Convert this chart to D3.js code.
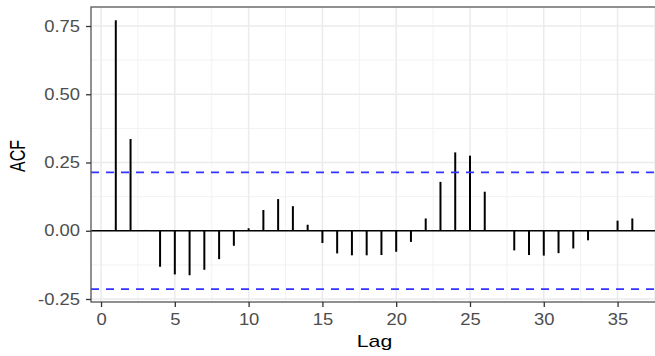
<!DOCTYPE html>
<html>
<head>
<meta charset="utf-8">
<script src="https://cdn.jsdelivr.net/npm/d3@7"></script>
<style>
  body { margin: 0; background: #fff; }
  svg text { font-family: "Liberation Sans", Arial, sans-serif; }
</style>
</head>
<body>
<div id="chart"></div>
<script>
// ACF values, lag 1..36
var lags = d3.range(1, 37);
var acf = [0.771, 0.336, 0.003, -0.132, -0.160, -0.163, -0.143, -0.104, -0.055, 0.009,
           0.076, 0.116, 0.090, 0.022, -0.045, -0.083, -0.090, -0.090, -0.089, -0.077,
           -0.041, 0.045, 0.179, 0.287, 0.275, 0.143, 0.002, -0.072, -0.089, -0.091,
           -0.082, -0.065, -0.035, 0.002, 0.037, 0.045];
var ciBounds = [0.214, -0.214];
var xTicks = [0, 5, 10, 15, 20, 25, 30, 35];
var xMinor = [2.5, 7.5, 12.5, 17.5, 22.5, 27.5, 32.5, 37.5];
var yTicks = [-0.25, 0, 0.25, 0.5, 0.75];
var yMinor = [-0.125, 0.125, 0.375, 0.625];

var W = 655, H = 356;
var P = {left: 91, top: 7, right: 658, bottom: 302};
var STRETCH = 1.15; // the picture's text is a bit wide

var svg = d3.select("#chart").append("svg")
    .attr("width", W)
    .attr("height", H);

var x = d3.scaleLinear().domain([-0.68, 37.74]).range([P.left, P.right]);
var y = d3.scaleLinear().domain([-0.261, 0.8196]).range([P.bottom, P.top]);

// panel + grid
var grid = svg.append("g");
grid.append("rect")
    .attr("x", P.left).attr("y", P.top)
    .attr("width", P.right - P.left).attr("height", P.bottom - P.top)
    .attr("fill", "#fff");
grid.selectAll(".ymin").data(yMinor).enter().append("line")
    .attr("x1", P.left).attr("x2", P.right)
    .attr("y1", function(d){ return y(d); }).attr("y2", function(d){ return y(d); })
    .attr("stroke", "#F2F2F2").attr("stroke-width", 1);
grid.selectAll(".xmin").data(xMinor).enter().append("line")
    .attr("y1", P.top).attr("y2", P.bottom)
    .attr("x1", function(d){ return x(d); }).attr("x2", function(d){ return x(d); })
    .attr("stroke", "#F2F2F2").attr("stroke-width", 1);
grid.selectAll(".ymaj").data(yTicks).enter().append("line")
    .attr("x1", P.left).attr("x2", P.right)
    .attr("y1", function(d){ return y(d); }).attr("y2", function(d){ return y(d); })
    .attr("stroke", "#EBEBEB").attr("stroke-width", 1.5);
grid.selectAll(".xmaj").data(xTicks).enter().append("line")
    .attr("y1", P.top).attr("y2", P.bottom)
    .attr("x1", function(d){ return x(d); }).attr("x2", function(d){ return x(d); })
    .attr("stroke", "#EBEBEB").attr("stroke-width", 1.5);

// zero line
svg.append("line")
    .attr("x1", P.left).attr("x2", P.right)
    .attr("y1", y(0)).attr("y2", y(0))
    .attr("stroke", "#000").attr("stroke-width", 1.5);

// acf segments
svg.selectAll(".seg")
    .data(lags)
    .enter().append("line")
      .attr("class", "seg")
      .attr("x1", function(d){ return x(d); })
      .attr("x2", function(d){ return x(d); })
      .attr("y1", y(0))
      .attr("y2", function(d, i){ return y(acf[i]); })
      .attr("stroke", "#000")
      .attr("stroke-width", 2);

// confidence bounds
svg.selectAll(".ci")
    .data(ciBounds)
    .enter().append("line")
      .attr("x1", P.left).attr("x2", P.right)
      .attr("y1", function(d){ return y(d); })
      .attr("y2", function(d){ return y(d); })
      .attr("stroke", "#3333ff")
      .attr("stroke-width", 1.8)
      .attr("stroke-dasharray", "8,7");

// border
svg.append("rect")
    .attr("x", P.left).attr("y", P.top)
    .attr("width", P.right - P.left).attr("height", P.bottom - P.top)
    .attr("fill", "none").attr("stroke", "#555").attr("stroke-width", 1.3);

// axes
var yAxis = d3.axisLeft(y).tickValues(yTicks).tickSize(5).tickPadding(6)
    .tickFormat(function(d){ return d3.format(".2f")(d).replace("\u2212", "-"); });
var xAxis = d3.axisBottom(x).tickValues(xTicks).tickSize(5).tickPadding(7);

var gy = svg.append("g").attr("transform", "translate(" + P.left + ",0)").call(yAxis);
var gx = svg.append("g").attr("transform", "translate(0," + P.bottom + ")").call(xAxis);
[gx, gy].forEach(function(g){
  g.select(".domain").remove();
  g.selectAll(".tick line").attr("stroke", "#333").attr("stroke-width", 1.3);
  g.selectAll(".tick text").attr("fill", "#4D4D4D").style("font-size", "16px");
});
gy.selectAll(".tick text")
    .attr("transform", "translate(-11,0) scale(" + STRETCH + ",1) translate(11,0)");
gx.selectAll(".tick text")
    .attr("transform", "scale(" + STRETCH + ",1)");

// titles
svg.append("text")
    .attr("transform", "translate(" + ((P.left + P.right) / 2) + ",347) scale(1.33,1)")
    .attr("text-anchor", "middle")
    .style("font-size", "16px")
    .attr("fill", "#000")
    .text("Lag");
svg.append("text")
    .attr("transform", "translate(25,156) scale(1.33,1) rotate(-90)")
    .attr("text-anchor", "middle")
    .style("font-size", "16px")
    .attr("fill", "#000")
    .text("ACF");
</script>
</body>
</html>
